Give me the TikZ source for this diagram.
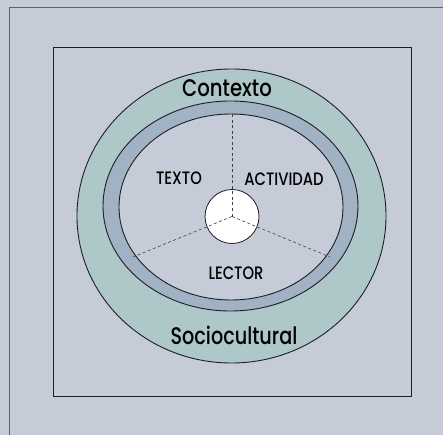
\documentclass[tikz,border=0pt]{standalone}
\usepackage{fontspec}
\setmainfont{Poppins}[UprightFont=* Medium]

\definecolor{fondo}{RGB}{197,204,216}
\definecolor{anillo}{RGB}{174,199,201}
\definecolor{banda}{RGB}{160,178,195}
\definecolor{trazo}{RGB}{30,30,34}
\newcommand{\estrecho}[1]{\scalebox{0.82}[1]{#1}}

\begin{document}
\begin{tikzpicture}[x=1pt,y=-1pt,
  marco/.style={draw=trazo,line width=0.9pt},
  rayo/.style={draw=trazo!85,line width=0.6pt,dash pattern=on 3pt off 2.5pt},
  grande/.style={font=\fontsize{24}{24}\selectfont,inner sep=0pt},
  etiqueta/.style={font=\fontsize{18}{18}\selectfont,inner sep=0pt}]
  \fill[fondo] (0,0) rectangle (443,435);
  \useasboundingbox (0,0) rectangle (443,435);
  \draw[trazo!70,line width=0.8pt] (9.5,435) -- (9.5,7) -- (443,7);
  \draw[marco] (53,47) rectangle (411,396);
  % anillos
  \draw[marco,fill=anillo] (231.5,216) ellipse [x radius=154.5,y radius=147];
  \draw[marco,fill=banda] (230.5,206) ellipse [x radius=127.5,y radius=105];
  \draw[marco,fill=fondo] (231,207) ellipse [x radius=112,y radius=93];
  \node[circle,draw=trazo,line width=0.8pt,fill=white,minimum size=54pt,inner sep=0pt] (centro) at (232,216.5) {};
  \coordinate (arriba) at (232,114);
  \coordinate (izq) at (133,257);
  \coordinate (der) at (330,257);
  \foreach \p in {arriba,izq,der}
    \draw[rayo] (centro.center) -- (\p);
  \node[grande] (contexto) at (227,88) {\estrecho{Contexto}};
  \node[grande] (socio) at (234,335.5) {\scalebox{0.8}[1]{Sociocultural}};
  \node[etiqueta] (texto) at (179,178) {\estrecho{TEXTO}};
  \node[etiqueta] (actividad) at (284,179) {\estrecho{ACTIVIDAD}};
  \node[etiqueta] (lector) at (236,273) {\estrecho{LECTOR}};
\end{tikzpicture}
\end{document}
